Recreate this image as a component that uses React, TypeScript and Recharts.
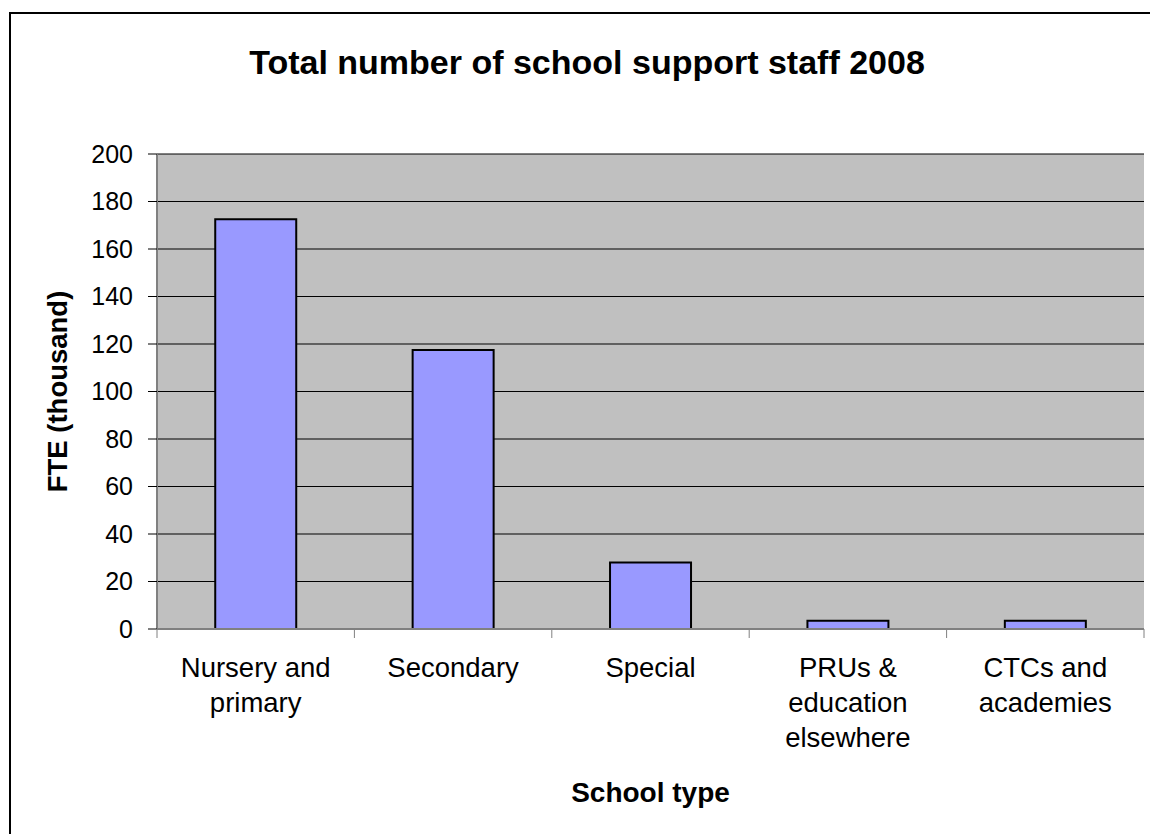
import { BarChart, Bar, XAxis, YAxis, CartesianGrid } from 'recharts';

const CATEGORIES = [
  'Nursery and primary',
  'Secondary',
  'Special',
  'PRUs & education elsewhere',
  'CTCs and academies',
];
// how each category label wraps under the axis
const CATEGORY_LINES = [
  ['Nursery and', 'primary'],
  ['Secondary'],
  ['Special'],
  ['PRUs &', 'education', 'elsewhere'],
  ['CTCs and', 'academies'],
];
const FTE_THOUSAND = [172.5, 117.5, 28, 3.5, 3.5];
const Y_TICKS = [0, 20, 40, 60, 80, 100, 120, 140, 160, 180, 200];

const FONT = '"Liberation Sans", Arial, sans-serif';

const data = CATEGORIES.map((name, i) => ({ name, value: FTE_THOUSAND[i] }));

const CategoryTick = (props: any) => {
  const { x, y, payload, index } = props;
  const half = payload?.offset ?? 0;
  const i = payload?.index ?? index;
  const lines = CATEGORY_LINES[i] || [String(payload.value)];
  const isLast = i === CATEGORIES.length - 1;
  return (
    <g>
      <line x1={x - half} x2={x - half} y1={y} y2={y + 9} stroke="#808080" strokeWidth={1} />
      {isLast && <line x1={x + half} x2={x + half} y1={y} y2={y + 9} stroke="#808080" strokeWidth={1} />}
      <text x={x} y={y + 48} textAnchor="middle" fontFamily={FONT} fontSize={27.5} fill="#000">
        {lines.map((l: string, k: number) => (
          <tspan key={k} x={x} dy={k === 0 ? 0 : 35}>
            {l}
          </tspan>
        ))}
      </text>
    </g>
  );
};

const yLabel = (p: any) => {
  const vb = p.viewBox;
  const cx = vb.x + 67;
  const cy = vb.y + vb.height / 2;
  return (
    <text
      x={cx}
      y={cy}
      transform={`rotate(-90, ${cx}, ${cy})`}
      textAnchor="middle"
      fontFamily={FONT}
      fontWeight="bold"
      fontSize={27.5}
      fill="#000"
    >
      FTE (thousand)
    </text>
  );
};

const xLabel = (p: any) => {
  const vb = p.viewBox;
  return (
    <text
      x={vb.x + vb.width / 2}
      y={vb.y + 173}
      textAnchor="middle"
      fontFamily={FONT}
      fontWeight="bold"
      fontSize={28}
      fill="#000"
    >
      School type
    </text>
  );
};

export default function App() {
  return (
    <div
      style={{
        position: 'fixed',
        left: 0,
        top: 0,
        width: 1150,
        height: 834,
        overflow: 'hidden',
        background: '#fff',
      }}
    >
      {/* chart frame, right and bottom edges fall outside the picture */}
      <div
        style={{
          position: 'absolute',
          left: 9,
          top: 12,
          width: 1200,
          height: 900,
          border: '2px solid #000',
          boxSizing: 'border-box',
        }}
      />
      <div
        style={{
          position: 'absolute',
          left: 7,
          top: 45,
          width: 1160,
          textAlign: 'center',
          fontFamily: FONT,
          fontWeight: 'bold',
          fontSize: 34,
          lineHeight: 1,
          color: '#000',
        }}
      >
        Total number of school support staff 2008
      </div>
      <div style={{ position: 'absolute', left: 0, top: 0 }}>
        <BarChart
          width={1150}
          height={834}
          data={data}
          margin={{ top: 154, right: 6, left: 0, bottom: 0 }}
          barCategoryGap="29.5%"
        >
          <CartesianGrid vertical={false} stroke="#000" strokeWidth={1} fill="#C0C0C0" fillOpacity={1} />
          <XAxis
            dataKey="name"
            height={205}
            interval={0}
            tickSize={0}
            tickMargin={0}
            tickLine={false}
            axisLine={{ stroke: '#808080', strokeWidth: 2 }}
            tick={<CategoryTick />}
            label={xLabel}
          />
          <XAxis
            xAxisId="top"
            orientation="top"
            dataKey="name"
            height={0}
            tick={false}
            tickLine={false}
            axisLine={{ stroke: '#808080', strokeWidth: 2 }}
          />
          <YAxis
            width={157}
            type="number"
            domain={[0, 200]}
            ticks={Y_TICKS}
            interval={0}
            tickSize={9}
            tickMargin={15}
            tickLine={{ stroke: '#000', strokeWidth: 1 }}
            axisLine={{ stroke: '#808080', strokeWidth: 2 }}
            tick={{ fontFamily: FONT, fontSize: 25, fill: '#000' }}
            label={yLabel}
          />
          <YAxis
            yAxisId="right"
            orientation="right"
            width={0}
            type="number"
            domain={[0, 200]}
            tick={false}
            tickLine={false}
            axisLine={{ stroke: '#808080', strokeWidth: 3 }}
          />
          <Bar dataKey="value" fill="#9999FF" stroke="#000" strokeWidth={2} isAnimationActive={false} />
        </BarChart>
      </div>
    </div>
  );
}
